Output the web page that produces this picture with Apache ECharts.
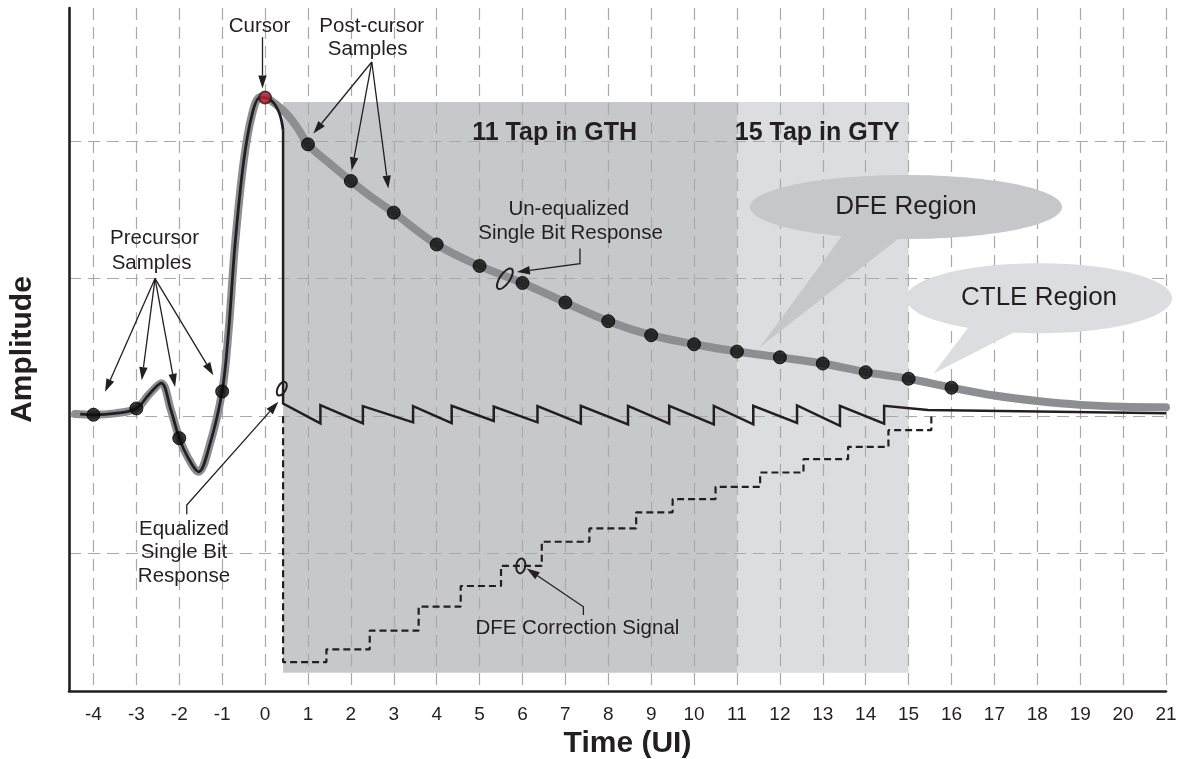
<!DOCTYPE html>
<html><head><meta charset="utf-8">
<script src="https://cdn.jsdelivr.net/npm/echarts@6/dist/echarts.min.js"></script>
<style>html,body{margin:0;padding:0;background:#fff}#chart{width:1188px;height:759px}</style>
</head><body><div id="chart"></div>
<script>
// ---------------- data ----------------
const xTickValues = [-4,-3,-2,-1,0,1,2,3,4,5,6,7,8,9,10,11,12,13,14,15,16,17,18,19,20,21];
const yGridValues = [-1,0,1,2];

// un-equalized single bit response (thick grey)
const unEqX = [-4.43,-4,-3.5,-3,-2.7,-2.42,-2.2,-2,-1.8,-1.55,-1.3,-1,-0.85,-0.7,-0.5,-0.3,-0.12,0,0.25,0.5,0.75,1,1.5,2,2.5,3,4,5,6,7,8,9,10,11,12,13,14,15,16,17,18,19,20,21];
const unEqY = [0.015,0.01,0.02,0.056,0.16,0.24,0.05,-0.16,-0.3,-0.405,-0.22,0.18,0.62,1.25,1.85,2.2,2.32,2.318,2.27,2.2,2.1,1.978,1.84,1.711,1.59,1.481,1.249,1.093,0.969,0.827,0.691,0.589,0.523,0.47,0.428,0.383,0.32,0.272,0.207,0.15,0.11,0.082,0.068,0.065];

// equalized response, smooth part up to the cursor
const eqX = [-4.31,-4,-3.5,-3,-2.7,-2.42,-2.2,-2,-1.8,-1.55,-1.3,-1,-0.85,-0.7,-0.5,-0.3,-0.12,0,0.2,0.35,0.42];
const eqY = [0.015,0.01,0.02,0.056,0.16,0.24,0.05,-0.16,-0.3,-0.405,-0.22,0.18,0.62,1.25,1.85,2.2,2.32,2.318,2.28,2.19,2.08];

// equalized response, DFE sawtooth part
const sawJumpX  = [0.42,1.29,2.28,3.45,4.35,5.33,6.35,7.36,8.46,9.42,10.46,11.38,12.4,13.4,14.43];
const sawTop    = [0.092,0.08,0.073,0.073,0.075,0.07,0.073,0.075,0.075,0.075,0.075,0.075,0.078,0.075,0.075];
const sawBottom = [null,-0.053,-0.053,-0.045,-0.05,-0.035,-0.045,-0.055,-0.06,-0.055,-0.06,-0.06,-0.05,-0.07,-0.055];
const sawTailX  = [15.45,21];
const sawTailY  = [0.045,0.022];

// DFE correction signal (staircase)
const dfeStepX = [0.42,1.43,2.44,3.58,4.56,5.5,6.45,7.56,8.65,9.5,10.5,11.54,12.55,13.59,14.53,15.53];
const dfeLevel = [-1.79,-1.697,-1.56,-1.386,-1.236,-1.09,-0.914,-0.817,-0.70,-0.604,-0.514,-0.41,-0.313,-0.223,-0.102,0.007];
const dfeStart = 0;

// samples
const sampleX = [-4,-3,-2,-1,1,2,3,4,5,6,7,8,9,10,11,12,13,14,15,16];
const sampleY = [0.01,0.056,-0.16,0.18,1.978,1.711,1.481,1.249,1.093,0.969,0.827,0.691,0.589,0.523,0.47,0.428,0.383,0.32,0.272,0.207];
const cursorX = [0];
const cursorY = [2.318];

// tap regions
const regionStart = [0.42, 11];
const regionEnd   = [11, 15];
const regionTop = 2.286, regionBottom = -1.867;

// ---------------- annotations (data coordinates) ----------------
const notes = [
  ['Cursor', -0.13, 2.84], ['Post-cursor', 2.487, 2.836], ['Samples', 2.39, 2.667],
  ['Precursor', -2.576, 1.292], ['Samples', -2.646, 1.11],
  ['Un-equalized', 7.08, 1.505], ['Single Bit Response', 7.12, 1.329],
  ['Equalized', -1.89, -0.824], ['Single Bit', -1.89, -0.994], ['Response', -1.89, -1.164],
  ['DFE Correction Signal', 7.28, -1.544]
];
const boldNotes = [['11 Tap in GTH', 6.75, 2.058], ['15 Tap in GTY', 12.87, 2.058]];
const arrows = [
  [[-0.06,2.758],[-0.06,2.385]],
  [[2.487,2.577],[1.126,2.056]], [[2.487,2.577],[2.021,1.789]], [[2.487,2.577],[2.874,1.656]],
  [[-2.564,1.001],[-3.73,0.177]], [[-2.564,1.001],[-2.874,0.262]], [[-2.564,1.001],[-2.098,0.213]], [[-2.564,1.001],[-1.205,0.298]],
  [[7.34,1.22],[7.34,1.11],[5.87,1.049]],
  [[-1.825,-0.713],[-1.825,-0.647],[0.31,0.104]],
  [[7.42,-1.447],[7.42,-1.387],[6.1,-1.108]]
];
const rings = [[5.59,1.0,5,12,-0.6],[0.39,0.2,4,7.5,-0.5],[5.96,-1.09,4.5,7.5,-0.15]];
const bubbles = [
  {text:'DFE Region', c:[14.94,1.522], rx:156, ry:32, fill:'#c6c7c9', base:[[-62,26],[-3,28]], tip:[11.54,0.504]},
  {text:'CTLE Region', c:[18.04,0.858], rx:133, ry:35, fill:'#dcdde0', base:[[-69,27],[-19,31]], tip:[15.58,0.31]}
];

// ---------------- build series data ----------------
const zip = (xs, ys) => xs.map((x, i) => [x, ys[i]]);
const sawData = [[eqX[eqX.length-1], eqY[eqY.length-1]]];
sawJumpX.forEach((x, i) => {
  if (i > 0) sawData.push([x, sawBottom[i]]);
  sawData.push([x, sawTop[i]]);
});
sawTailX.forEach((x, i) => sawData.push([x, sawTailY[i]]));

const dfeData = [[dfeStepX[0], dfeStart]];
dfeStepX.forEach((x, i) => {
  if (i > 0) dfeData.push([x, dfeLevel[i-1]]);
  dfeData.push([x, dfeLevel[i]]);
});

const INK = '#231f20';
const FONT = '"Liberation Sans", Arial, Helvetica, sans-serif';

function arrowEls(pts) {
  const n = pts.length, tip = pts[n-1], prev = pts[n-2];
  const dx = tip[0]-prev[0], dy = tip[1]-prev[1], L = Math.hypot(dx, dy);
  const ux = dx/L, uy = dy/L, hl = 13, hw = 4.2;
  const bx = tip[0]-ux*hl, by = tip[1]-uy*hl;
  return [
    {type:'polyline', shape:{points: pts.slice(0, n-1).concat([[bx, by]])}, style:{stroke:INK, lineWidth:1.3, fill:null}},
    {type:'polygon', shape:{points:[tip, [bx-uy*hw, by+ux*hw], [bx+uy*hw, by-ux*hw]]}, style:{fill:INK}}
  ];
}

const chart = echarts.init(document.getElementById('chart'), null, {renderer:'canvas'});
const gridLine = {show:true, lineStyle:{color:'#a9a9a9', width:1.2, type:[12,7]}};
chart.setOption({
  animation:false,
  backgroundColor:'#fff',
  grid:{left:69, right:22, top:8, bottom:68, outerBoundsMode:'none', containLabel:false},
  xAxis:{
    type:'value', min:-4.57, max:21, z:3,
    axisLine:{show:true, onZero:false, lineStyle:{color:INK, width:2.6}},
    axisTick:{show:false, customValues:xTickValues},
    axisLabel:{customValues:xTickValues, fontSize:19, color:INK, margin:14, fontFamily:FONT},
    splitLine:gridLine,
    name:'Time (UI)', nameLocation:'middle', nameGap:30,
    nameTextStyle:{fontSize:30, fontWeight:'bold', color:INK, fontFamily:FONT, padding:[0,0,0,20]}
  },
  yAxis:{
    type:'value', min:-2, max:2.97, z:3,
    axisLine:{show:true, onZero:false, lineStyle:{color:INK, width:2.6}},
    axisTick:{show:false, customValues:yGridValues},
    axisLabel:{show:false, customValues:yGridValues},
    splitLine:gridLine,
    name:'Amplitude', nameLocation:'middle', nameGap:31, nameRotate:90,
    nameTextStyle:{fontSize:30, fontWeight:'bold', color:INK, fontFamily:FONT}
  },
  series:[
    {
      type:'custom', z:1, silent:true,
      data: regionStart.map((s, i) => [s, 0]),
      renderItem:(params, api) => {
        const i = params.dataIndex;
        const p0 = api.coord([regionStart[i], regionTop]);
        const p1 = api.coord([regionEnd[i], regionBottom]);
        return {type:'rect', shape:{x:p0[0], y:p0[1], width:p1[0]-p0[0], height:p1[1]-p0[1]},
                style:{fill: i === 0 ? '#c7c8ca' : '#dcdde0'}};
      }
    },
    {type:'line', z:5, data:zip(unEqX, unEqY), smooth:0.35, showSymbol:false, silent:true,
     lineStyle:{color:'#8d8e91', width:8, cap:'round'}},
    {type:'line', z:6, data:zip(eqX, eqY), smooth:0.35, showSymbol:false, silent:true,
     lineStyle:{color:INK, width:2.8}},
    {type:'line', z:6, data:sawData, showSymbol:false, silent:true,
     lineStyle:{color:INK, width:2.5, join:'miter'}},
    {type:'line', z:6, data:dfeData, showSymbol:false, silent:true,
     lineStyle:{color:INK, width:2.2, type:[7,4]}},
    {type:'scatter', z:8, data:zip(sampleX, sampleY), symbolSize:13, silent:true,
     itemStyle:{color:'#0d0d0d', borderColor:'#000', borderWidth:1}},
    {type:'scatter', z:8, data:zip(cursorX, cursorY), symbolSize:12, silent:true,
     itemStyle:{color:'#c41e2e', borderColor:INK, borderWidth:2}},
    {
      type:'custom', z:10, silent:true, data:[[0,0]],
      renderItem:(params, api) => {
        const P = (p) => api.coord(p);
        const kids = [];
        bubbles.forEach(b => {
          const c = P(b.c), t = P(b.tip);
          kids.push({type:'polygon', shape:{points:[[c[0]+b.base[0][0], c[1]+b.base[0][1]], [c[0]+b.base[1][0], c[1]+b.base[1][1]], t]}, style:{fill:b.fill}});
          kids.push({type:'ellipse', shape:{cx:c[0], cy:c[1], rx:b.rx, ry:b.ry}, style:{fill:b.fill}});
          kids.push({type:'text', x:c[0], y:c[1], style:{text:b.text, fill:INK, font:'26px ' + FONT, align:'center', verticalAlign:'middle'}});
        });
        notes.forEach(n => {
          const p = P([n[1], n[2]]);
          kids.push({type:'text', x:p[0], y:p[1], style:{text:n[0], fill:INK, font:'20.5px ' + FONT, align:'center', verticalAlign:'middle'}});
        });
        boldNotes.forEach(n => {
          const p = P([n[1], n[2]]);
          kids.push({type:'text', x:p[0], y:p[1], style:{text:n[0], fill:INK, font:'bold 25px ' + FONT, align:'center', verticalAlign:'middle'}});
        });
        arrows.forEach(a => arrowEls(a.map(P)).forEach(e => kids.push(e)));
        rings.forEach(r => {
          const p = P([r[0], r[1]]);
          kids.push({type:'ellipse', x:p[0], y:p[1], rotation:r[4], shape:{cx:0, cy:0, rx:r[2], ry:r[3]}, style:{fill:null, stroke:INK, lineWidth:2}});
        });
        return {type:'group', children:kids};
      }
    }
  ]
});
</script></body></html>
